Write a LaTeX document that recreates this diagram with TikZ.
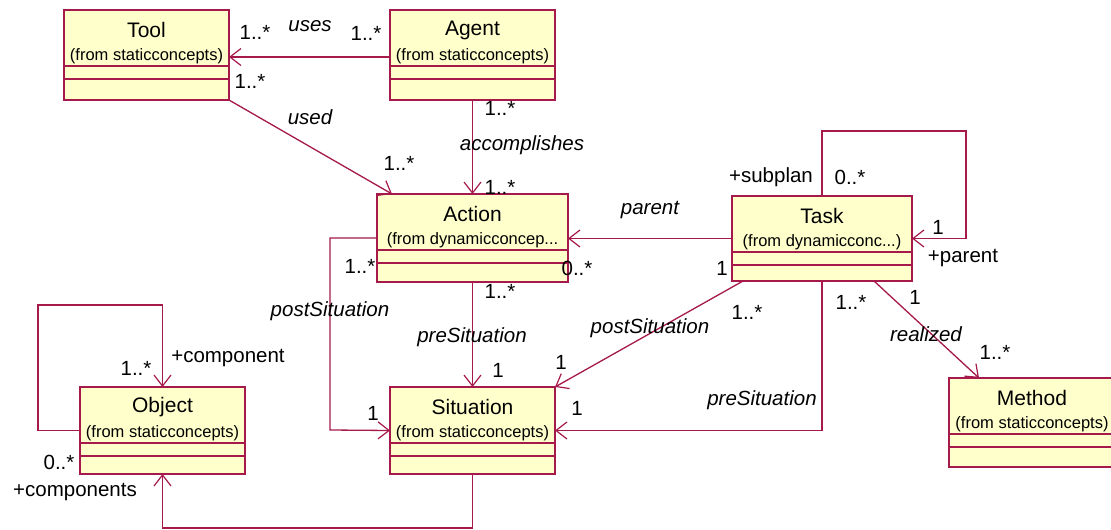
\documentclass[tikz,border=0pt]{standalone}
\usepackage{fontspec}
\setmainfont{Liberation Sans}
\usetikzlibrary{arrows.meta}
\definecolor{umlline}{RGB}{165,25,75}
\definecolor{umlfill}{RGB}{255,255,204}
\tikzset{
  assoc/.style={draw=umlline, line width=1.3pt},
  nav/.style={assoc, -{Straight Barb[length=11pt,width=17pt,line width=1.2pt]}},
  clsbox/.style={draw=umlline, fill=umlfill, line width=1.3pt, inner sep=0pt, outer sep=0pt},
  ttl/.style={font=\fontsize{21}{24}\selectfont, inner sep=0pt},
  frm/.style={font=\fontsize{16.5}{19}\selectfont, inner sep=0pt},
  mult/.style={font=\fontsize{20.5}{24}\selectfont, inner sep=0pt},
  role/.style={font=\fontsize{20.5}{24}\selectfont\itshape, inner sep=0pt},
}
% UML class box: name, left, top, right, bottom, title, package note
\newcommand{\umlclass}[7]{%
  \node[clsbox, minimum width={(#4-#2)*1pt}, minimum height={(#5-#3)*1pt}] (#1) at ({(#2+#4)/2},{(#3+#5)/2}) {};
  \draw[assoc] (#2,{#3+56}) -- (#4,{#3+56});
  \draw[assoc] (#2,{#3+69}) -- (#4,{#3+69});
  \node[ttl] (#1-title) at ({(#2+#4)/2},{#3+20}) {#6};
  \node[frm] (#1-origin) at ({(#2+#4)/2},{#3+46}) {#7};
}
\begin{document}
\begin{tikzpicture}[x=1pt,y=-1pt]
\useasboundingbox[fill=white] (0,0) rectangle (1111,530);

% classes
\umlclass{tool}{64}{10}{229}{100}{Tool}{(from staticconcepts)}
\umlclass{agent}{390}{10}{555}{100}{Agent}{(from staticconcepts)}
\umlclass{action}{377}{194}{568}{282}{Action}{(from dynamicconcep...}
\umlclass{task}{732}{196}{912}{281}{Task}{(from dynamicconc...)}
\umlclass{object}{80}{387}{245}{474}{Object}{(from staticconcepts)}
\umlclass{situation}{390}{387}{555}{474}{Situation}{(from staticconcepts)}
\umlclass{method}{949}{378}{1115}{467}{Method}{(from staticconcepts)}

% associations
\draw[nav] (agent.west |- 0,57) -- (tool.east |- 0,57);
\draw[nav] (tool.south east) -- ([xshift=15pt]action.north west);
\draw[nav] (agent.south) -- (action.north);
\draw[nav] (task.west) -- (task.west -| action.east);
\draw[nav] (task.north) |- (966,131) |- (task.east);
\draw[nav] (action.west) -| (330,430) -- (situation.west);
\draw[nav] (action.south) -- (situation.north);
\draw[nav] ([xshift=11pt]task.south west) -- (situation.north east);
\draw[nav] (task.south) |- (situation.east);
\draw[nav] ([xshift=52pt]task.south) -- ([xshift=30pt]method.north west);
\draw[nav] (object.west) -| (38,305) -| (object.north);
\draw[nav] (situation.south) -- (situation.south |- 0,528) -| (object.south);

% association names and multiplicities
\node[mult] (m1) at (255,32) {1..*};
\node[role] (r1) at (310,26) {uses};
\node[mult] (m2) at (366,33) {1..*};
\node[mult] (m3) at (250,81) {1..*};
\node[role] (r2) at (310,117) {used};
\node[mult] (m4) at (399,163) {1..*};
\node[mult] (m5) at (500,108) {1..*};
\node[role] (r3) at (522,145) {accomplishes};
\node[mult] (m6) at (500,187) {1..*};
\node[mult] (m7) at (771,177) {+subplan};
\node[mult] (m8) at (850,177) {0..*};
\node[role] (r4) at (650,210) {parent};
\node[mult] (m9) at (938,227) {1};
\node[mult] (m10) at (963,258) {+parent};
\node[mult] (m11) at (722,268) {1};
\node[mult] (m12) at (360,266) {1..*};
\node[mult] (m13) at (577,268) {0..*};
\node[mult] (m14) at (500,291) {1..*};
\node[role] (r5) at (330,311) {postSituation};
\node[role] (r6) at (472,337) {preSituation};
\node[mult] (m15) at (498,370) {1};
\node[mult] (m16) at (373,413) {1};
\node[mult] (m17) at (747,312) {1..*};
\node[role] (r7) at (650,328) {postSituation};
\node[mult] (m18) at (561,362) {1};
\node[mult] (m19) at (851,302) {1..*};
\node[mult] (m20) at (915,297) {1};
\node[role] (r8) at (762,400) {preSituation};
\node[mult] (m21) at (577,408) {1};
\node[role] (r9) at (926,334) {realized};
\node[mult] (m22) at (995,352) {1..*};
\node[mult] (m23) at (136,368) {1..*};
\node[mult] (m24) at (228,358) {+component};
\node[mult] (m25) at (59,462) {0..*};
\node[mult] (m26) at (75,492) {+components};
\end{tikzpicture}
\end{document}
